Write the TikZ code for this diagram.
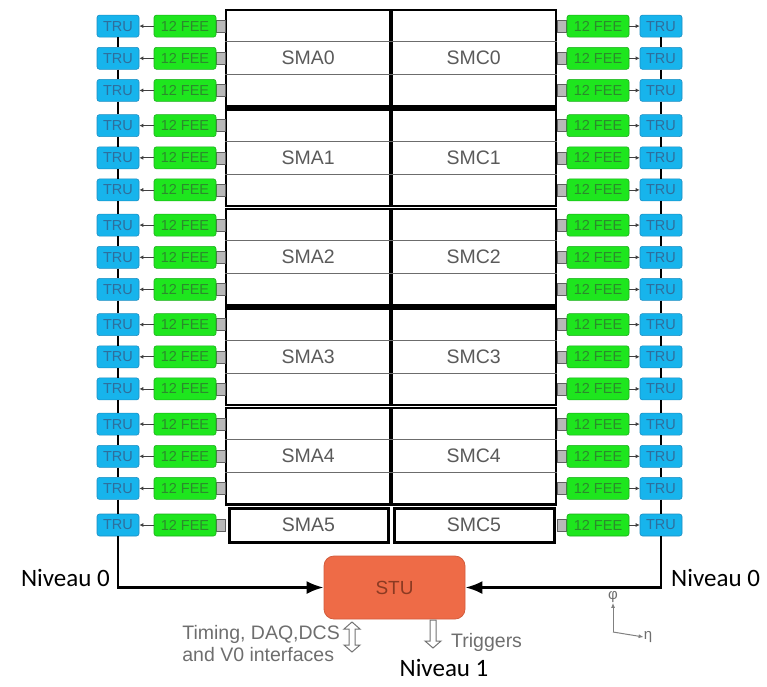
\documentclass[tikz,border=0pt]{standalone}
\usepackage{fontspec}
\setmainfont{Liberation Sans}
\newfontfamily\carl{Carlito}
\usetikzlibrary{arrows.meta,calc}
\definecolor{trufill}{HTML}{17B4EC}
\definecolor{trudraw}{HTML}{1C8DC2}
\definecolor{trutext}{HTML}{2F6E9C}
\definecolor{feefill}{HTML}{1EE61E}
\definecolor{feedraw}{HTML}{1AAE1A}
\definecolor{feetext}{HTML}{2C8A2C}
\definecolor{smtext}{HTML}{5A5A5A}
\definecolor{stufill}{HTML}{EE6B47}
\definecolor{studraw}{HTML}{D25C3C}
\definecolor{stutext}{HTML}{8B3A22}
\definecolor{greytext}{HTML}{6E6E6E}
\begin{document}
\begin{tikzpicture}[x=1pt,y=-1pt,
  trubox/.style={draw=trudraw, fill=trufill, rounded corners=2.5pt, minimum width=42pt, minimum height=22pt, inner sep=0pt, text=trutext, font=\fontsize{14.5}{16}\selectfont, line width=0.6pt},
  feebox/.style={draw=feedraw, fill=feefill, rounded corners=2.5pt, minimum width=62pt, minimum height=22pt, inner sep=0pt, text=feetext, font=\fontsize{14.5}{16}\selectfont, line width=0.6pt},
  conbox/.style={draw=gray!75!black, fill=gray!55, minimum width=9pt, minimum height=12pt, inner sep=0pt, line width=0.5pt},
  smbox/.style={draw=black, line width=2.2pt, minimum width=164.5pt, minimum height=96.5pt, inner sep=0pt, text=smtext, font=\fontsize{19.5}{22}\selectfont},
  smlast/.style={draw=black, line width=3pt, minimum height=34pt, inner sep=0pt, text=smtext, font=\fontsize{19.5}{22}\selectfont},
  subline/.style={draw=gray!85!black, line width=1.1pt},
  feearrow/.style={draw=black!75, line width=0.8pt, -{Latex[length=4pt,width=4pt]}},
  chain/.style={draw=black, line width=2.6pt},
  lvl/.style={draw=black, line width=2.6pt, -{Latex[length=17pt,width=13pt]}},
  stubox/.style={draw=studraw, fill=stufill, rounded corners=10pt, minimum width=141pt, minimum height=63pt, inner sep=0pt, text=stutext, font=\fontsize{19}{22}\selectfont, line width=0.8pt},
  niv/.style={font=\carl\fontsize{25}{28}\selectfont, text=black, inner sep=0pt},
  greylabel/.style={font=\fontsize{19.5}{22}\selectfont, text=greytext, inner sep=0pt},
  hollow/.style={draw=gray!90!black, fill=white, line width=1pt, line join=miter},
  axarrow/.style={draw=gray, line width=1pt, -{Latex[length=5pt,width=4pt]}},
  axlabel/.style={font=\fontsize{15}{17}\selectfont, text=greytext, inner sep=0pt}
]
\useasboundingbox (0,0) rectangle (767,686);

% super-modules
\foreach \k in {0,...,4}{
  \node[smbox] (smA\k) at (308.25,{10+99.5*\k+48.25}) {SMA\k};
  \node[smbox] (smC\k) at (473.75,{10+99.5*\k+48.25}) {SMC\k};
  \foreach \s in {A,C}{
    \draw[subline] ($(sm\s\k.north west)!1/3!(sm\s\k.south west)$) -- ($(sm\s\k.north east)!1/3!(sm\s\k.south east)$);
    \draw[subline] ($(sm\s\k.north west)!2/3!(sm\s\k.south west)$) -- ($(sm\s\k.north east)!2/3!(sm\s\k.south east)$);
  }
}
\node[smlast, minimum width=159pt] (smA5) at (308.5,525) {SMA5};
\node[smlast, minimum width=160pt] (smC5) at (474,525) {SMC5};

% rows of TRU / FEE
\foreach \y [count=\n from 0] in {26.1,58.3,90.4,125.6,157.8,189.9,225.1,257.3,289.4,324.6,356.8,388.9,424.1,456.3,488.4,525}{
  \node[conbox] (conL-\n) at (221,\y) {};
  \node[conbox] (conR-\n) at (561.5,\y) {};
  \node[feebox] (feeL-\n) at (185,\y) {12 FEE};
  \node[feebox] (feeR-\n) at (598,\y) {12 FEE};
  \node[trubox] (truL-\n) at (118,\y) {TRU};
  \node[trubox] (truR-\n) at (661,\y) {TRU};
  \draw[feearrow] (feeL-\n.west) -- (truL-\n.east);
  \draw[feearrow] (feeR-\n.east) -- (truR-\n.west);
}
\foreach \n in {1,...,15}{
  \pgfmathtruncatemacro\m{\n-1}
  \draw[chain] (truL-\m.south) -- (truL-\n.north);
  \draw[chain] (truR-\m.south) -- (truR-\n.north);
}

% STU
\node[stubox] (stu) at (394.5,587.5) {STU};
\draw[lvl] (truL-15.south) |- (stu.west);
\draw[lvl] (truR-15.south) |- (stu.east);

\node[niv, anchor=east] (nivL) at (110,578) {Niveau 0};
\node[niv, anchor=west] (nivR) at (671,578) {Niveau 0};
\node[niv] (niv1) at (444,668) {Niveau 1};

% interfaces
\coordinate (dA) at (352,622);
\draw[hollow] (dA) -- ++(8,7) -- ++(-5,0) -- ++(0,16) -- ++(5,0) -- ++(-8,7) -- ++(-8,-7) -- ++(5,0) -- ++(0,-16) -- ++(-5,0) -- cycle;
\node[greylabel, anchor=east, align=left] (tim) at (340,644) {Timing, DAQ,DCS\\and V0 interfaces};

\coordinate (tA) at (433,620);
\draw[hollow] ($(tA)+(-3,0)$) -- ++(6,0) -- ++(0,21) -- ++(5,0) -- ++(-8,7) -- ++(-8,-7) -- ++(5,0) -- cycle;
\node[greylabel, anchor=west] (trig) at (451,642) {Triggers};

% axes
\coordinate (axo) at (613,632);
\node[axlabel] (phi) at (613,597) {φ};
\node[axlabel] (eta) at (648,637) {η};
\draw[axarrow] (axo) -- (phi.south);
\draw[axarrow] (axo) -- (eta.west);
\end{tikzpicture}
\end{document}
